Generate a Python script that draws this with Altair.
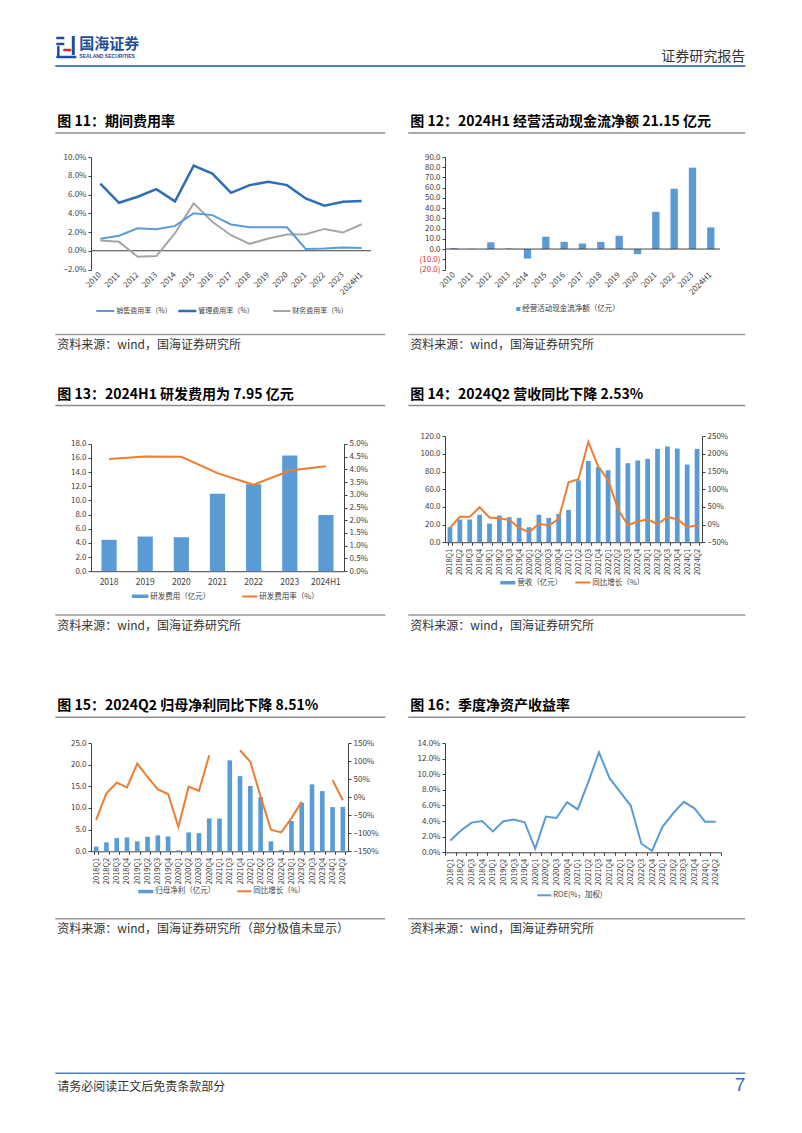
import altair as alt
import pandas as pd

FONT = "Noto Sans CJK SC"
AX = "#404040"
BLUE = "#5B9BD5"
DBLUE = "#2E6EB5"
GREY = "#A5A5A5"
ORANGE = "#ED7D31"
LINEGREY = "#8C8C8C"

# ---------------- data ----------------
years11 = ["2010", "2011", "2012", "2013", "2014", "2015", "2016", "2017",
           "2018", "2019", "2020", "2021", "2022", "2023", "2024H1"]
sales_rate = [1.27, 1.6, 2.4, 2.3, 2.65, 4.0, 3.8, 2.8, 2.5, 2.5, 2.5, 0.2, 0.25, 0.35, 0.3]
admin_rate = [7.17, 5.12, 5.76, 6.57, 5.27, 9.08, 8.23, 6.18, 7.0, 7.35, 7.0, 5.58, 4.8, 5.23, 5.3]
fin_rate = [1.1, 0.95, -0.64, -0.57, 1.87, 5.05, 3.1, 1.66, 0.74, 1.3, 1.73, 1.77, 2.33, 1.94, 2.83]

cfo = [0.9, 0.3, 6.6, 0.6, -9.3, 12.1, 7.0, 5.4, 7.0, 13.0, -5.0, 36.4, 59.0, 79.6, 21.15]

years13 = ["2018", "2019", "2020", "2021", "2022", "2023", "2024H1"]
rd_exp = [4.43, 4.9, 4.8, 10.93, 12.3, 16.35, 7.95]
rd_rate = [4.40, 4.50, 4.49, 3.85, 3.39, 3.95, 4.12]

quarters26 = ["2018Q1", "2018Q2", "2018Q3", "2018Q4", "2019Q1", "2019Q2", "2019Q3", "2019Q4",
              "2020Q1", "2020Q2", "2020Q3", "2020Q4", "2021Q1", "2021Q2", "2021Q3", "2021Q4",
              "2022Q1", "2022Q2", "2022Q3", "2022Q4", "2023Q1", "2023Q2", "2023Q3", "2023Q4",
              "2024Q1", "2024Q2"]
revenue = [17.0, 25.7, 25.7, 31.0, 21.1, 30.2, 28.3, 27.5, 17.0, 31.0, 27.5, 32.0, 36.6,
           70.0, 92.0, 85.0, 81.5, 106.8, 89.4, 92.5, 94.3, 105.7, 108.3, 106.0, 87.9, 105.7]
rev_yoy = [-9.4, 21.7, 21.7, 49.0, 19.8, 18.0, 13.0, -9.4, -21.7, 1.9, -2.8, 16.0, 119.8,
           128.0, 234.0, 164.0, 126.0, 44.0, -1.9, 8.5, 15.0, 1.0, 21.0, 15.0, -6.6, -2.53]

quarters15 = ["2018Q1", "2018Q2", "2018Q3", "2018Q4", "2019Q1", "2019Q2", "2019Q3", "2019Q4",
              "2020Q1", "2020Q2", "2020Q3", "2020Q4", "2021Q1", "2021Q3", "2021Q4",
              "2022Q1", "2022Q2", "2022Q3", "2022Q4", "2023Q1", "2023Q2", "2023Q3", "2023Q4",
              "2024Q1", "2024Q2"]
net_profit = [1.07, 2.06, 3.06, 3.2, 2.3, 3.36, 3.67, 3.44, 0.23, 4.36, 4.2, 7.57, 7.6,
              21.0, 17.35, 15.1, 12.5, 2.3, 0.3, 7.0, 11.2, 15.45, 13.9, 10.2, 10.25]
np_yoy = [-62.8, 10.5, 40.0, 27.0, 93.0, 56.0, 21.5, 8.7, -82.0, 29.0, 17.0, 116.0, None,
          None, 130.0, 98.0, 1.4, -90.0, -97.7, -58.0, -12.4, None, None, 47.0, -8.51]

roe = [1.5, 2.8, 3.8, 4.0, 2.67, 3.98, 4.19, 3.85, 0.47, 4.57, 4.4, 6.43, 5.5, 9.0, 12.8,
       9.5, 7.74, 5.96, 1.1, 0.2, 3.3, 5.0, 6.47, 5.63, 3.9, 3.9]

ticks11 = [-2, 0, 2, 4, 6, 8, 10]
ticks12 = [-20, -10, 0, 10, 20, 30, 40, 50, 60, 70, 80, 90]
ticks13L = [0, 2, 4, 6, 8, 10, 12, 14, 16, 18]
ticks13R = [0, 0.5, 1, 1.5, 2, 2.5, 3, 3.5, 4, 4.5, 5]
ticks14L = [0, 20, 40, 60, 80, 100, 120]
ticks14R = [-50, 0, 50, 100, 150, 200, 250]
ticks15L = [0, 5, 10, 15, 20, 25]
ticks15R = [-150, -100, -50, 0, 50, 100, 150]
ticks16 = [0, 2, 4, 6, 8, 10, 12, 14]

# ---------------- layout ----------------
W11, H11 = 280, 112.5
W12, H12 = 275, 112.5
W13, H13 = 253, 130.2
W14, H14 = 257, 101.2
W15, H15 = 257, 108.3
W16, H16 = 276, 109.3
R13 = [130.2, 2.8]     # plot drawn 2.8px below the cell top
R14 = [101.2, -4.8]    # plot drawn 4.8px above the cell top
COLSP, ROWSP = 74, 171
O11 = (90.7, 157.0)
O12 = (O11[0] + W11 + COLSP, 157.0)
O13 = (90.7, 157.0 + H11 + ROWSP)
O14 = (O12[0], O13[1])
O15 = (90.7, O13[1] + max(H13, H14) + ROWSP)
O16 = (O12[0], O15[1])

one = pd.DataFrame({"k": [0]})


def T(o, px, py, s, size=12, color="#333333", weight="normal", align="left", font=FONT):
    return alt.Chart(one).mark_text(text=s, fontSize=size, color=color, fontWeight=weight,
                                    align=align, baseline="middle", font=font).encode(
        x=alt.value(px - o[0]), y=alt.value(py - o[1]))


def R(o, x1, x2, y1, y2, color, width=1.0):
    return alt.Chart(one).mark_rule(color=color, strokeWidth=width).encode(
        x=alt.value(x1 - o[0]), x2=alt.value(x2 - o[0]),
        y=alt.value(y1 - o[1]), y2=alt.value(y2 - o[1]))


def B(o, x1, x2, y1, y2, color):
    return alt.Chart(one).mark_rect(color=color).encode(
        x=alt.value(x1 - o[0]), x2=alt.value(x2 - o[0]),
        y=alt.value(y1 - o[1]), y2=alt.value(y2 - o[1]))


def block(o, left, title, title_y, src_y, src):
    x0, x1, tx = (55, 385, 57) if left else (408, 745, 410)
    return [
        T(o, tx, title_y, title, 14, "#000000", "bold"),
        R(o, x0, x1, title_y + 11, title_y + 11, LINEGREY, 1.6),
        R(o, x0, x1, src_y - 10.5, src_y - 10.5, "#9A9A9A", 1.6),
        T(o, tx, src_y, src, 12, "#333333"),
    ]


def xband(cats, pin, angle, ticks, fs, pad):
    if angle == 0:
        ax = alt.Axis(labelAngle=0, domain=True, ticks=False, labelFontSize=fs, labelPadding=pad)
    elif angle == -45:
        ax = alt.Axis(labelAngle=-45, labelAlign="right", labelBaseline="middle",
                      domain=False, ticks=False, labelFontSize=fs, labelPadding=pad)
    else:
        ax = alt.Axis(labelAngle=-90, labelAlign="right", labelBaseline="middle",
                      domain=True, ticks=ticks, tickBand="extent", tickSize=3,
                      labelFontSize=fs, labelPadding=pad)
    return alt.X("cat:N", sort=cats, title=None,
                 scale=alt.Scale(type="band", paddingInner=pin, paddingOuter=pin / 2),
                 axis=ax)


def yax(field, dom, vals, expr, orient="left", color=None, rng=None):
    kw = dict(values=vals, labelExpr=expr, orient=orient, labelOverlap=False)
    if color is not None:
        kw["labelColor"] = color
    sk = dict(domain=dom, nice=False, zero=False)
    if rng is not None:
        sk["range"] = rng
    return alt.Y(field, title=None, scale=alt.Scale(**sk), axis=alt.Axis(**kw))


PCT1 = "format(datum.value, '.1f') + '%'"
NUM1 = "format(datum.value, '.1f')"
PCT0 = "format(datum.value, 'd') + '%'"
zero_df = pd.DataFrame({"val": [0]})

# ---------------- chart 11 ----------------
X11 = xband(years11, 0, -45, False, 8, 4)
Y11 = yax("val:Q", [-2, 10], ticks11, PCT1)


def line11(vals, color, w):
    df = pd.DataFrame({"cat": years11, "val": vals})
    return alt.Chart(df).mark_line(color=color, strokeWidth=w).encode(x=X11, y=Y11)


zero11 = alt.Chart(zero_df).mark_rule(color=AX, strokeWidth=1).encode(
    y=Y11, x=alt.value(0), x2=alt.value(W11))

o = O11
header = [
    B(o, 8, 9, 8, 9, "#ffffff"),
    # logo glyph
    R(o, 56, 64, 38, 38, "#1F4E9A", 2.5),
    R(o, 56, 64, 44, 44, "#1F4E9A", 2.5),
    R(o, 58, 58, 46, 57, "#1F4E9A", 2.5),
    R(o, 56, 76, 57, 57, "#1F4E9A", 2.5),
    R(o, 73, 73, 36, 55, "#1F4E9A", 3),
    R(o, 63, 71, 50, 50, "#D9262C", 2.5),
    T(o, 79, 43.5, "国海证券", 15, "#1F4E9A", "bold"),
    T(o, 79, 56, "SEALAND SECURITIES", 5, "#1F4E9A", "bold", font="Liberation Sans"),
    T(o, 745, 57, "证券研究报告", 14, "#333333", align="right"),
    R(o, 55, 745, 66, 66, "#4A7FC1", 1.8),
]
legend11 = [
    R(o, 96, 114, 311, 311, BLUE, 2), T(o, 116, 311, "销售费用率（%）", 7, AX),
    R(o, 178, 196, 311, 311, DBLUE, 2.5), T(o, 198, 311, "管理费用率（%）", 7, AX),
    R(o, 273, 290, 311, 311, GREY, 2), T(o, 292, 311, "财务费用率（%）", 7, AX),
]
c11 = alt.layer(
    *header, zero11,
    line11(fin_rate, GREY, 2), line11(sales_rate, BLUE, 2), line11(admin_rate, DBLUE, 2.5),
    *legend11,
    *block(o, True, "图 11：期间费用率", 122, 345, "资料来源：wind，国海证券研究所"),
).properties(width=W11, height=H11)

# ---------------- chart 12 ----------------
o = O12
X12 = xband(years11, 0.6, -45, False, 8, 4)
df12 = pd.DataFrame({"cat": years11, "val": cfo})
neg_expr = "datum.value < 0 ? '(' + format(-datum.value, '.1f') + ')' : format(datum.value, '.1f')"
Y12 = yax("val:Q", [-20, 90], ticks12, neg_expr,
          color={"condition": {"test": "datum.value < 0", "value": "#E03030"}, "value": AX})
bar12 = alt.Chart(df12).mark_bar(color=BLUE).encode(x=X12, y=Y12)
zero12 = alt.Chart(zero_df).mark_rule(color=AX, strokeWidth=1).encode(
    y=Y12, x=alt.value(0), x2=alt.value(W12))
c12 = alt.layer(
    bar12, zero12,
    B(o, 516, 520, 307, 311, BLUE), T(o, 522, 309, "经营活动现金流净额（亿元）", 7.5, AX),
    *block(o, False, "图 12：2024H1 经营活动现金流净额 21.15 亿元", 122, 345,
           "资料来源：wind，国海证券研究所"),
).properties(width=W12, height=H12)

# ---------------- chart 13 ----------------
o = O13
X13 = xband(years13, 0.58, 0, False, 8.5, 6)
df13 = pd.DataFrame({"cat": years13, "exp": rd_exp, "rate": rd_rate})
bar13 = alt.Chart(df13).mark_bar(color=BLUE).encode(
    x=X13, y=yax("exp:Q", [0, 18], ticks13L, NUM1, rng=R13))
line13 = alt.Chart(df13).mark_line(color=ORANGE, strokeWidth=2).encode(
    x=X13, y=yax("rate:Q", [0, 5], ticks13R, PCT1, orient="right", rng=R13))
c13 = alt.layer(
    bar13, line13,
    B(o, 131.5, 148, 594, 597.5, BLUE), T(o, 150, 596, "研发费用（亿元）", 7.5, AX),
    R(o, 242, 257, 596, 596, ORANGE, 2), T(o, 259, 596, "研发费用率（%）", 7.5, AX),
    *block(o, True, "图 13：2024H1 研发费用为 7.95 亿元", 394, 625,
           "资料来源：wind，国海证券研究所"),
).resolve_scale(y="independent").properties(width=W13, height=H13)

# ---------------- chart 14 ----------------
o = O14
X14 = xband(quarters26, 0.52, -90, True, 7.5, 3)
df14 = pd.DataFrame({"cat": quarters26, "rev": revenue, "yoy": rev_yoy})
bar14 = alt.Chart(df14).mark_bar(color=BLUE).encode(
    x=X14, y=yax("rev:Q", [0, 120], ticks14L, NUM1, rng=R14))
line14 = alt.Chart(df14).mark_line(color=ORANGE, strokeWidth=2).encode(
    x=X14, y=yax("yoy:Q", [-50, 250], ticks14R, PCT0, orient="right", rng=R14))
c14 = alt.layer(
    bar14, line14,
    B(o, 500, 515, 580.5, 584, BLUE), T(o, 517, 582, "营收（亿元）", 7.5, AX),
    R(o, 575, 590, 582, 582, ORANGE, 2), T(o, 592, 582, "同比增长（%）", 7.5, AX),
    *block(o, False, "图 14：2024Q2 营收同比下降 2.53%", 394, 625,
           "资料来源：wind，国海证券研究所"),
).resolve_scale(y="independent").properties(width=W14, height=H14)

# ---------------- chart 15 ----------------
o = O15
X15 = xband(quarters15, 0.55, -90, True, 7.5, 3)
df15 = pd.DataFrame({"cat": quarters15, "np": net_profit})
seg, rows = 0, []
for c, v in zip(quarters15, np_yoy):
    if v is None:
        seg += 1
        continue
    rows.append({"cat": c, "yoy": v, "seg": seg})
df15l = pd.DataFrame(rows)
bar15 = alt.Chart(df15).mark_bar(color=BLUE).encode(
    x=X15, y=yax("np:Q", [0, 25], ticks15L, NUM1))
line15 = alt.Chart(df15l).mark_line(color=ORANGE, strokeWidth=2).encode(
    x=X15, y=yax("yoy:Q", [-150, 150], ticks15R, PCT0, orient="right"),
    detail="seg:N")
footer = [
    R(o, 55, 745, 1072, 1072, "#4A7FC1", 1.5),
    T(o, 57, 1086, "请务必阅读正文后免责条款部分", 12, "#333333"),
    T(o, 745, 1084, "7", 19, "#2E6EB5", align="right", font="Liberation Sans"),
]
c15 = alt.layer(
    bar15, line15,
    B(o, 138, 153, 888.5, 892, BLUE), T(o, 155, 890, "归母净利（亿元）", 7.5, AX),
    R(o, 237, 251, 890, 890, ORANGE, 2), T(o, 253, 890, "同比增长（%）", 7.5, AX),
    *block(o, True, "图 15：2024Q2 归母净利同比下降 8.51%", 705, 928,
           "资料来源：wind，国海证券研究所（部分极值未显示）"),
    *footer,
).resolve_scale(y="independent").properties(width=W15, height=H15)

# ---------------- chart 16 ----------------
o = O16
X16 = xband(quarters26, 0, -90, True, 7.5, 3)
df16 = pd.DataFrame({"cat": quarters26, "roe": roe})
line16 = alt.Chart(df16).mark_line(color=BLUE, strokeWidth=2).encode(
    x=X16, y=yax("roe:Q", [0, 14], ticks16, PCT1))
c16 = alt.layer(
    line16,
    R(o, 537, 551, 894, 894, BLUE, 2), T(o, 553, 894, "ROE(%，加权)", 7.5, AX),
    *block(o, False, "图 16：季度净资产收益率", 705, 928, "资料来源：wind，国海证券研究所"),
).properties(width=W16, height=H16)

chart = alt.concat(
    c11, c12, c13, c14, c15, c16,
    columns=2, spacing={"row": ROWSP, "column": COLSP}, bounds="flush", align="each",
).properties(padding=0).configure_view(stroke=None).configure_axis(
    labelFont=FONT, labelColor=AX, labelFontSize=8, domainColor=AX, tickColor=AX,
    tickSize=3, grid=False, domainWidth=1, tickWidth=1,
)

chart.save("out.html", embed_options={"renderer": "svg", "actions": False})
